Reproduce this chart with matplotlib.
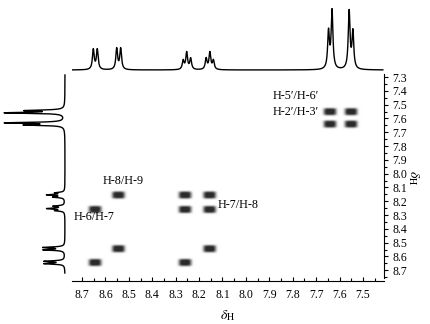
import numpy as np
import matplotlib
matplotlib.use("Agg")
import matplotlib.pyplot as plt
from matplotlib.colors import LinearSegmentedColormap
from matplotlib.ticker import MultipleLocator

plt.rcParams['font.family'] = ['Liberation Serif', 'DejaVu Serif']
plt.rcParams['mathtext.fontset'] = 'stix'

# 1D projection lines: shift (ppm) and height (px above baseline)
line_ppm = [8.652, 8.635, 8.552, 8.535,
            8.268, 8.253, 8.236, 8.170, 8.154, 8.139,
            7.647, 7.632, 7.559, 7.543]
line_height = [20, 20, 21, 21,
               9, 17, 11, 11, 17, 9,
               37, 58, 58, 37]

# COSY cross / diagonal peaks (F2 ppm, F1 ppm)
peak_x = [8.545, 8.26, 8.155, 8.645, 8.26, 8.155, 8.545, 8.155, 8.645, 8.26,
          7.64, 7.55, 7.64, 7.55]
peak_y = [8.155, 8.155, 8.155, 8.26, 8.26, 8.26, 8.545, 8.545, 8.645, 8.645,
          7.55, 7.55, 7.64, 7.64]

labels = ["H-8/H-9", "H-6/H-7", "H-7/H-8", "H-5\u2032/H-6\u2032", "H-2\u2032/H-3\u2032"]
label_x = [8.525, 8.649, 8.119, 7.884, 7.884]
label_y = [8.054, 8.315, 8.228, 7.438, 7.554]
label_ha = ["center", "center", "left", "left", "left"]

xlim = (8.743, 7.410)
ylim = (8.778, 7.278)


def spectrum(ppm):
    out = np.zeros_like(ppm)
    w = 0.0045
    for p, h in zip(line_ppm, line_height):
        out += h * w**2 / ((ppm - p)**2 + w**2)
    return out


W, H = 430, 324
fig = plt.figure(figsize=(4.3, 3.24), dpi=100)

# main 2D panel
ax = fig.add_axes([72/W, (H-281)/H, 312/W, 207/H])
gx = np.linspace(xlim[1], xlim[0], 700)
gy = np.linspace(ylim[1], ylim[0], 500)
X, Y = np.meshgrid(gx, gy)
Z = np.zeros_like(X)
for px, py in zip(peak_x, peak_y):
    Z += np.exp(-((X - px)/0.027)**4 - ((Y - py)/0.026)**4)
cmap = LinearSegmentedColormap.from_list("g", ["#ffffff", "#2a2a2a"])
ax.imshow(Z, extent=[gx[0], gx[-1], gy[0], gy[-1]], origin="lower",
          cmap=cmap, vmin=0, vmax=0.9, aspect="auto", interpolation="bilinear")
ax.set_xlim(*xlim)
ax.set_ylim(*ylim)
ax.spines['top'].set_visible(False)
ax.spines['left'].set_visible(False)
ax.spines['right'].set_bounds(7.28, 8.755)
ax.yaxis.tick_right()
ax.yaxis.set_label_position("right")
ax.xaxis.set_minor_locator(MultipleLocator(0.05))
ax.yaxis.set_minor_locator(MultipleLocator(0.05))
ax.set_xticks(np.round(np.arange(7.5, 8.71, 0.1), 1))
ax.set_yticks(np.round(np.arange(7.3, 8.71, 0.1), 1))
ax.tick_params(axis='x', which='major', direction='in', length=3, width=0.8,
               labelsize=8.5, pad=6)
ax.tick_params(axis='x', which='minor', direction='in', length=2, width=0.8)
ax.tick_params(axis='y', which='major', direction='out', length=3, width=0.8,
               labelsize=8.5, pad=3)
ax.tick_params(axis='y', which='minor', direction='out', length=2, width=0.8)
ax.set_xlabel(r"$\delta_\mathrm{H}$", fontsize=10, labelpad=5)
ax.set_ylabel(r"$\delta_\mathrm{H}$", fontsize=10, rotation=-90, labelpad=10)

for t, x, y, ha in zip(labels, label_x, label_y, label_ha):
    ax.text(x, y, t, ha=ha, va="center", fontsize=8.7)

# top projection
axt = fig.add_axes([72/W, (H-72)/H, 312/W, 72/H])
xs = np.linspace(xlim[0], 7.415, 1500)
axt.plot(xs, spectrum(xs), color="black", lw=1.0)
axt.set_xlim(*xlim)
axt.set_ylim(-2, 70)
axt.axis("off")

# left projection
axl = fig.add_axes([0, (H-281)/H, 72/W, 207/H])
ys = np.linspace(7.285, 8.72, 1500)
axl.plot(65 - spectrum(ys), ys, color="black", lw=1.0)
axl.set_xlim(0, 72)
axl.set_ylim(*ylim)
axl.axis("off")

fig.savefig("out.png", dpi=100)
